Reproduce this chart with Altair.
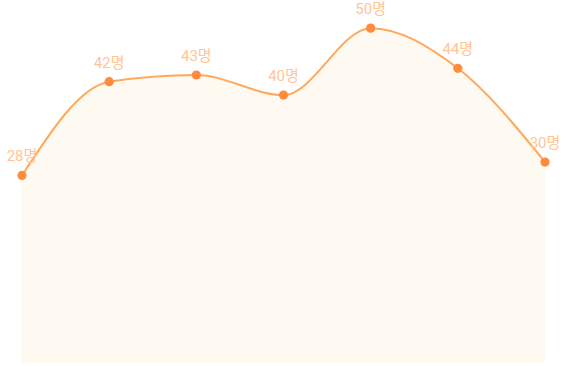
import altair as alt
import pandas as pd

positions = [0, 1, 2, 3, 4, 5, 6]
values = [28, 42, 43, 40, 50, 44, 30]
labels = ["28명", "42명", "43명", "40명", "50명", "44명", "30명"]

df = pd.DataFrame({"pos": positions, "value": values, "label": labels})

x = alt.X("pos:Q", scale=alt.Scale(domain=[0, 6], nice=False, zero=False), axis=None)
y = alt.Y("value:Q", scale=alt.Scale(domain=[0, 54.2], nice=False), axis=None)

base = alt.Chart(df).encode(x=x, y=y)

area = base.mark_area(interpolate="monotone", color="#FFFAF1", opacity=1)
line = base.mark_line(interpolate="monotone", color="#FFA95C", strokeWidth=2)
points = base.mark_circle(size=85, color="#FF8B3D", opacity=1)
text = base.mark_text(
    dy=-11, baseline="bottom", align="center", color="#FFC596",
    font="Roboto, 'Noto Sans CJK KR'", fontSize=15
).encode(text="label:N")

chart = alt.layer(area, line, points, text).properties(
    width=523, height=363,
    padding={"left": 22, "top": 0, "right": 21, "bottom": 3},
    autosize=alt.AutoSizeParams(type="none"),
    background="white",
).configure_view(strokeWidth=0, stroke="transparent")

chart.save("out.html", embed_options={"renderer": "svg", "actions": False})
